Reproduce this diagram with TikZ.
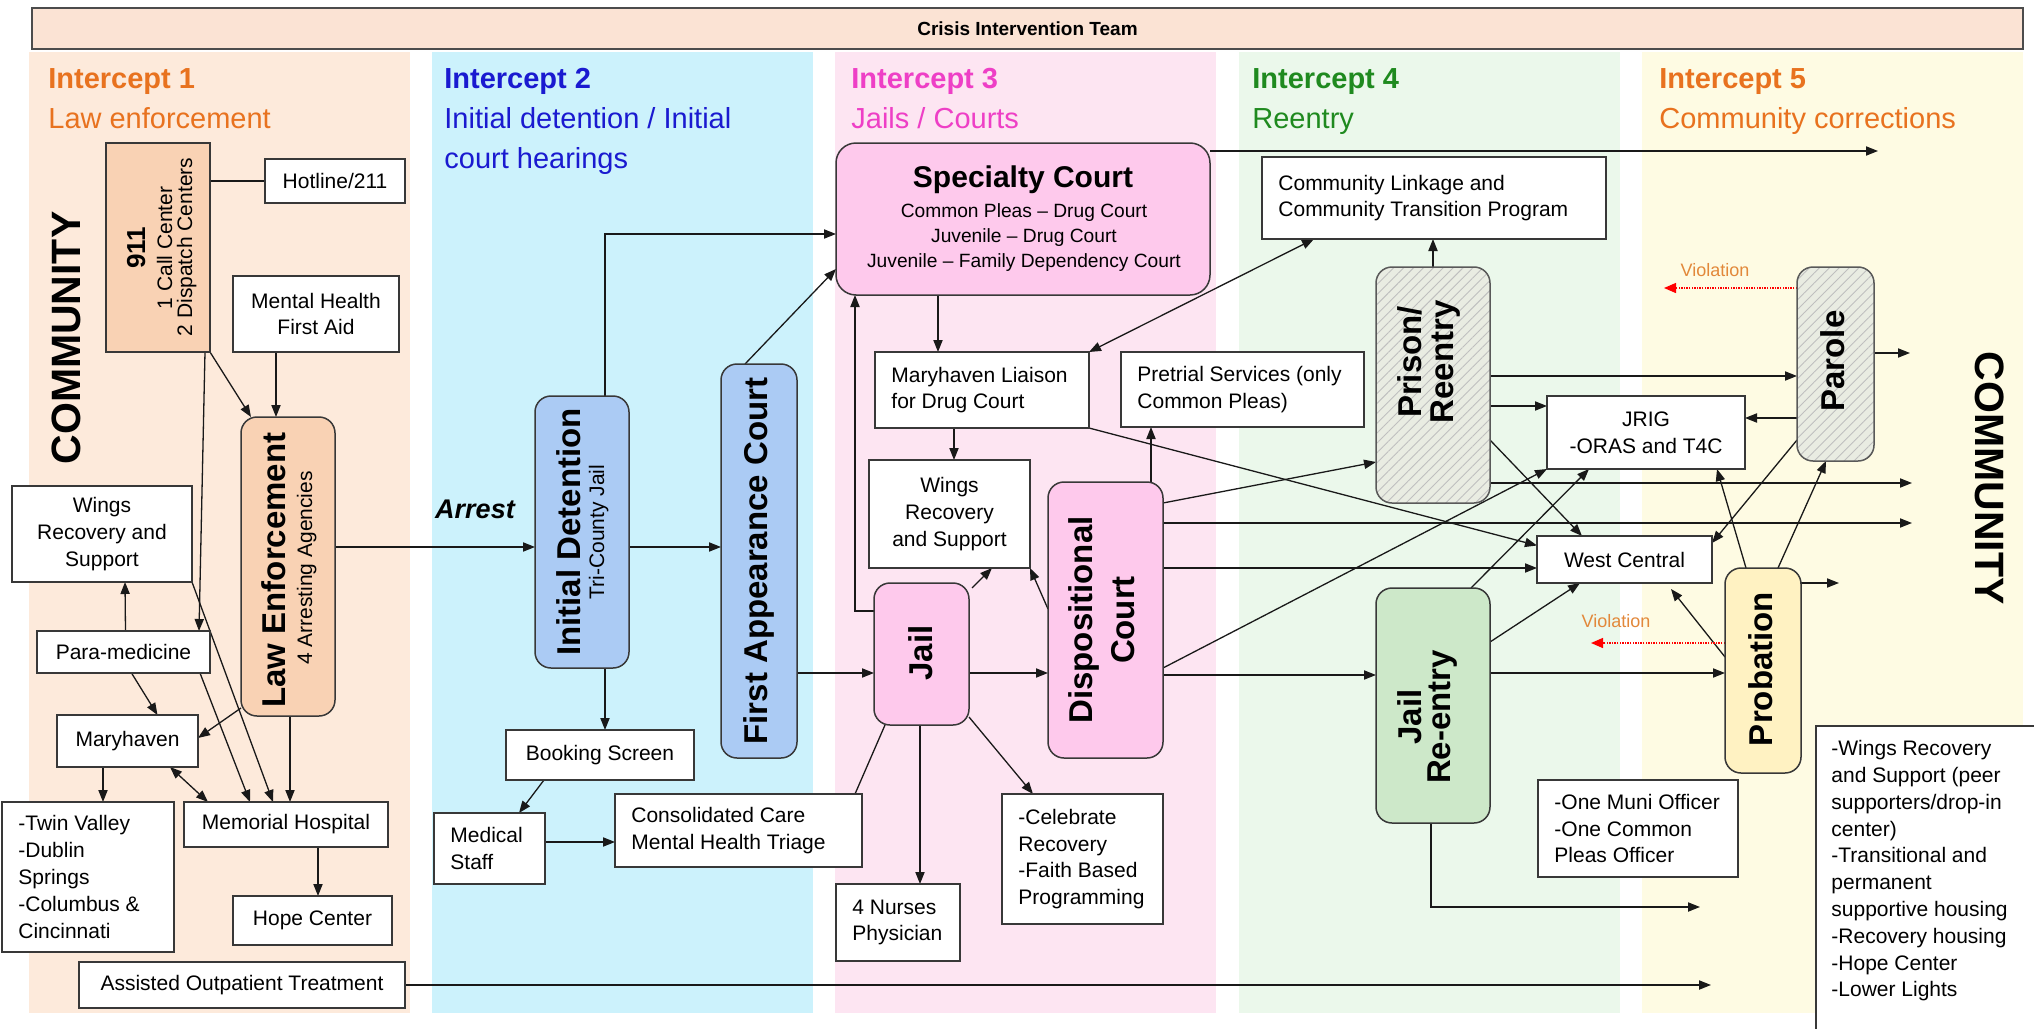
\documentclass[tikz,border=0pt]{standalone}
\usepackage{fontspec}
\setmainfont{Liberation Sans}
\usetikzlibrary{arrows.meta,calc,patterns.meta}

\definecolor{colA}{HTML}{FDEADB}
\definecolor{colB}{HTML}{CCF2FC}
\definecolor{colC}{HTML}{FDE5F2}
\definecolor{colD}{HTML}{EBF8EB}
\definecolor{colE}{HTML}{FEFBE3}
\definecolor{bannerc}{HTML}{FBE3D4}
\definecolor{peachbox}{HTML}{F9D2B4}
\definecolor{bluebox}{HTML}{ABCBF4}
\definecolor{pinkbox}{HTML}{FEC9EC}
\definecolor{greenbox}{HTML}{CDE8C9}
\definecolor{yellowbox}{HTML}{FFF2C2}
\definecolor{hatchbg}{HTML}{E9ECE2}
\definecolor{hOrange}{HTML}{E8721F}
\definecolor{hBlue}{HTML}{1A1AD0}
\definecolor{hMagenta}{HTML}{EE3FC6}
\definecolor{hGreen}{HTML}{1F8A1F}
\definecolor{violc}{HTML}{E2883A}

\pgfdeclarelayer{bg}
\pgfdeclarelayer{edges}
\pgfsetlayers{bg,edges,main}

\newcommand\bodyfont{\fontsize{10.5}{13.4}\selectfont}
\newcommand\vertfont{\fontsize{16.5}{18.5}\selectfont\bfseries}
\newcommand\headfont{\fontsize{14.5}{19.5}\selectfont}

% box from its corners: style, name, x1, y1, x2, y2, text
\newcommand\mkbox[7]{%
  \node[#1, minimum width={(#5-#3)*0.5pt}, minimum height={(#6-#4)*0.5pt}]
    (#2) at ({(#3+#5)/2},{(#4+#6)/2}) {#7};}
% same, with the text set flush left inside the box
\newcommand\mkboxl[7]{%
  \mkbox{#1}{#2}{#3}{#4}{#5}{#6}{}%
  \node[anchor=west, align=left, inner sep=0pt, font=\bodyfont] (#2-t) at ($(#2.west)+(16,0)$) {#7};}

\begin{document}
\begin{tikzpicture}[x=0.5pt,y=-0.5pt,
  box/.style={draw=black!78, line width=0.75pt, fill=white, inner sep=0pt, outer sep=0pt, align=center, font=\bodyfont},
  rbox/.style={box, rounded corners=8pt},
  hatchbox/.style={rbox, preaction={fill=hatchbg}, pattern={Lines[angle=45,distance=3.5pt,line width=0.45pt]}, pattern color=black!25, draw=black!65},
  arr/.style={draw=black!90, line width=0.65pt, -{Triangle[length=6pt,width=4.6pt]}},
  dbl/.style={draw=black!90, line width=0.65pt, {Triangle[length=6pt,width=4.6pt]}-{Triangle[length=6pt,width=4.6pt]}},
  plain/.style={draw=black!90, line width=0.65pt},
  viol/.style={draw=red, line width=0.7pt, dash pattern=on 0.7pt off 0.6pt, -{Triangle[length=6pt,width=5pt]}},
  vtext/.style={rotate=90, inner sep=0pt, font=\vertfont},
  hd/.style={anchor=base west, inner sep=0pt, font=\headfont},
  viollabel/.style={inner sep=0pt, text=violc, font=\fontsize{9}{10}\selectfont},
]
\useasboundingbox (0,0) rectangle (2034,1028);
\clip (0,0) rectangle (2034,1028);

% column backgrounds
\begin{pgfonlayer}{bg}
  \fill[white] (0,0) rectangle (2034,1028);
  \fill[colA] (29,52) rectangle (410,1013);
  \fill[colB] (432,52) rectangle (813,1013);
  \fill[colC] (835,52) rectangle (1216,1013);
  \fill[colD] (1239,52) rectangle (1620,1013);
  \fill[colE] (1642,52) rectangle (2023,1013);
\end{pgfonlayer}

% banner
\mkbox{box, fill=bannerc, draw=black!70}{banner}{32}{8}{2023}{49}{\fontsize{9.5}{11}\selectfont\bfseries Crisis Intervention Team}

% column headings
\node[hd, text=hOrange] (h1a) at (48,88) {\bfseries Intercept 1};
\node[hd, text=hOrange] (h1b) at (48,128) {Law enforcement};
\node[hd, text=hBlue] (h2a) at (444,88) {\bfseries Intercept 2};
\node[hd, text=hBlue] (h2b) at (444,128) {Initial detention / Initial};
\node[hd, text=hBlue] (h2c) at (444,168) {court hearings};
\node[hd, text=hMagenta] (h3a) at (851,88) {\bfseries Intercept 3};
\node[hd, text=hMagenta] (h3b) at (851,128) {Jails / Courts};
\node[hd, text=hGreen] (h4a) at (1252,88) {\bfseries Intercept 4};
\node[hd, text=hGreen] (h4b) at (1252,128) {Reentry};
\node[hd, text=hOrange] (h5a) at (1659,88) {\bfseries Intercept 5};
\node[hd, text=hOrange] (h5b) at (1659,128) {Community corrections};

\node[rotate=90, inner sep=0pt, font=\fontsize{20.5}{24}\selectfont\bfseries] (commL) at (66,338) {COMMUNITY};
\node[rotate=-90, inner sep=0pt, font=\fontsize{20.5}{24}\selectfont\bfseries] (commR) at (1990,478) {COMMUNITY};

% ---------- Intercept 1
\mkbox{box, fill=peachbox}{n911}{106}{143}{210}{352}{}
\node[vtext, anchor=base, font=\fontsize{13}{15}\selectfont\bfseries] (n911-t1) at (145,248) {911};
\node[vtext, anchor=base, font=\bodyfont] (n911-t2) at (172,248) {1 Call Center};
\node[vtext, anchor=base, font=\bodyfont] (n911-t3) at (192,247) {2 Dispatch Centers};
\mkbox{box}{hotline}{265}{159}{405}{203}{Hotline/211}
\mkbox{box}{mhfa}{233}{276}{399}{352}{Mental Health\\First Aid}
\mkbox{rbox, fill=peachbox}{le}{241}{417}{335}{716}{}
\node[vtext, anchor=base] (le-t1) at (285,570) {Law Enforcement};
\node[vtext, anchor=base, font=\bodyfont] (le-t2) at (312,568) {4 Arresting Agencies};
\mkbox{box}{wings1}{12}{486}{192}{582}{Wings\\Recovery and\\Support}
\mkbox{box}{para}{37}{631}{210}{673}{Para-medicine}
\mkbox{box}{mary}{57}{715}{198}{767}{Maryhaven}
\mkboxl{box}{twin}{2}{802}{174}{952}{-Twin Valley\\-Dublin\\Springs\\-Columbus \&\\Cincinnati}
\mkbox{box}{memorial}{184}{802}{388}{847}{Memorial Hospital}
\mkbox{box}{hope}{233}{896}{392}{945}{Hope Center}
\mkbox{box}{aot}{79}{962}{405}{1008}{Assisted Outpatient Treatment}

% ---------- Intercept 2
\node[inner sep=0pt, font=\fontsize{13.5}{16}\selectfont\bfseries\itshape] (arrest) at (475,509) {Arrest};
\mkbox{rbox, fill=bluebox}{id}{535}{396}{629}{668}{}
\node[vtext, anchor=base] (id-t1) at (580,532) {Initial Detention};
\node[vtext, anchor=base, font=\bodyfont] (id-t2) at (604,532) {Tri-County Jail};
\mkbox{rbox, fill=bluebox}{fac}{721}{364}{797}{758}{}
\node[vtext] (fac-t) at (fac.center) {First Appearance Court};
\mkbox{box}{booking}{506}{730}{694}{780}{Booking Screen}
\mkboxl{box}{medstaff}{434}{813}{545}{884}{Medical\\Staff}
\mkboxl{box}{consol}{615}{794}{862}{867}{Consolidated Care\\Mental Health Triage}

% ---------- Intercept 3
\mkbox{rbox, rounded corners=10pt, fill=pinkbox}{spec}{836}{143}{1210}{295}{}
\node[inner sep=0pt, font=\fontsize{15}{17}\selectfont\bfseries] (spec-t1) at (1023,180) {Specialty Court};
\node[inner sep=0pt, font=\fontsize{9.6}{11}\selectfont] (spec-t2) at (1024,213) {Common Pleas \textendash{} Drug Court};
\node[inner sep=0pt, font=\fontsize{9.6}{11}\selectfont] (spec-t3) at (1024,238) {Juvenile \textendash{} Drug Court};
\node[inner sep=0pt, font=\fontsize{9.6}{11}\selectfont] (spec-t4) at (1024,263) {Juvenile \textendash{} Family Dependency Court};
\mkboxl{box}{liaison}{875}{352}{1089}{428}{Maryhaven Liaison\\for Drug Court}
\mkbox{box}{wings3}{869}{460}{1030}{568}{Wings\\Recovery\\and Support}
\mkbox{rbox, fill=pinkbox}{jail}{874}{583}{969}{725}{}
\node[vtext] (jail-t) at (921,653) {Jail};
\mkbox{rbox, fill=pinkbox}{disp}{1048}{482}{1163}{758}{}
\node[vtext, anchor=base] (disp-t1) at (1092,620) {Dispositional};
\node[vtext, anchor=base] (disp-t2) at (1134,620) {Court};
\mkboxl{box}{pretrial}{1121}{352}{1364}{427}{Pretrial Services (only\\Common Pleas)}
\mkboxl{box}{nurses}{836}{884}{960}{961}{4 Nurses\\Physician}
\mkboxl{box}{celeb}{1002}{794}{1163}{924}{-Celebrate\\Recovery\\-Faith Based\\Programming}

% ---------- Intercept 4
\mkboxl{box}{complink}{1262}{157}{1606}{239}{Community Linkage and\\Community Transition Program}
\mkbox{hatchbox}{prison}{1376}{267}{1490}{503}{}
\node[vtext, anchor=base] (prison-t1) at (1421,362) {Prison/};
\node[vtext, anchor=base] (prison-t2) at (1453,362) {Reentry};
\mkbox{rbox, fill=greenbox}{jailre}{1376}{588}{1490}{823}{}
\node[vtext, anchor=base] (jailre-t1) at (1421,717) {Jail};
\node[vtext, anchor=base] (jailre-t2) at (1450,717) {Re-entry};
\mkbox{box}{jrig}{1547}{396}{1745}{469}{JRIG\\-ORAS and T4C}
\mkbox{box}{westc}{1537}{536}{1712}{583}{West Central}
\mkboxl{box}{muni}{1538}{780}{1738}{877}{-One Muni Officer\\-One Common\\Pleas Officer}

% ---------- Intercept 5
\mkbox{hatchbox}{parole}{1797}{267}{1874}{461}{}
\node[vtext] (parole-t) at (1833,361) {Parole};
\mkbox{rbox, fill=yellowbox}{probation}{1725}{568}{1801}{773}{}
\node[vtext] (probation-t) at (1761,669) {Probation};
\node[viollabel] (vl1) at (1715,270) {Violation};
\node[viollabel] (vl2) at (1616,621) {Violation};
\mkbox{box}{bigbox}{1816}{726}{2070}{1070}{}
\node[anchor=north west, align=left, inner sep=0pt, font=\bodyfont] (bigbox-t) at (1831,740)
  {-Wings Recovery\\and Support (peer\\supporters/drop-in\\center)\\-Transitional and\\permanent\\supportive housing\\-Recovery housing\\-Hope Center\\-Lower Lights};

% free ends of the outgoing connectors
\coordinate (specend) at (1878,151);
\coordinate (out1) at (1912,483);
\coordinate (out2) at (1912,523);
\coordinate (pout) at (1910,353);
\coordinate (probout) at (1839,583);
\coordinate (out3) at (1700,907);
\coordinate (aotend) at (1711,985);
\coordinate (viol1) at (1664,288);
\coordinate (viol2) at (1591,643);

\begin{pgfonlayer}{edges}
  % Intercept 1
  \draw[plain] (hotline.west) -- (hotline.west -| n911.east);
  \draw[arr] (n911.south east) -- ($(le.north west)+(10,0)$);
  \draw[arr] ($(mhfa.south)+(-40,0)$) -- ($(le.north)+(-12,0)$);
  \draw[arr] ($(n911.south east)+(-5,0)$) -- ($(para.north east)+(-11,0)$);
  \draw[arr] ($(para.north)+(2,0)$) -- ($(wings1.south)+(23,0)$);
  \draw[arr] ($(para.south)+(8,0)$) -- ($(mary.north)+(30,0)$);
  \draw[arr] ($(le.south west)+(0,-8)$) -- ($(mary.east)+(0,-3)$);
  \draw[arr] (wings1.south east) -- ($(memorial.north west)+(89,0)$);
  \draw[arr] ($(para.south east)+(-10,0)$) -- ($(memorial.north west)+(66,0)$);
  \draw[arr] ($(le.south)+(2,0)$) -- ($(memorial.north west)+(106,0)$);
  \draw[dbl] ($(mary.south east)+(-28,0)$) -- ($(memorial.north west)+(24,0)$);
  \draw[arr] ($(mary.south)+(-24.5,0)$) -- ($(twin.north)+(15,0)$);
  \draw[arr] ($(memorial.south)+(32,0)$) -- ($(hope.north)+(5.5,0)$);
  \draw[arr] ($(le.east)+(0,-19.5)$) -- ($(id.west)+(0,15)$);
  \draw[arr] (aot.east) -- (aotend);
  % Intercept 2
  \draw[arr] ($(id.north)+(23,0)$) |- ($(spec.west)+(0,15)$);
  \draw[arr] ($(id.east)+(0,15)$) -- ($(fac.west)+(0,-14)$);
  \draw[arr] ($(fac.north)+(-14,0)$) -- ($(spec.west)+(0,50)$);
  \draw[arr] ($(id.south)+(23,0)$) -- ($(booking.north)+(5,0)$);
  \draw[arr] ($(booking.south west)+(38,0)$) -- ($(medstaff.north west)+(85,0)$);
  \draw[arr] ($(medstaff.east)+(0,-6.5)$) -- ($(consol.west)+(0,11.5)$);
  \draw[arr] ($(fac.east)+(0,112)$) -- ($(jail.west)+(0,19)$);
  % Intercept 3
  \draw[arr] ($(spec.north east)+(0,8)$) -- (specend);
  \draw[arr] ($(spec.south)+(-85,0)$) -- ($(liaison.north)+(-44,0)$);
  \draw[dbl] ($(complink.south west)+(52,0)$) -- (liaison.north east);
  \draw[arr] ($(liaison.south)+(-28,0)$) -- ($(wings3.north)+(4.5,0)$);
  \draw[arr] ($(jail.north east)+(3,5)$) -- ($(wings3.south west)+(123,0)$);
  \draw[arr] ($(disp.north west)+(0,127)$) -- (wings3.south east);
  \draw[arr] ($(jail.west)+(0,-43)$) -| ($(spec.south west)+(19,0)$);
  \draw[arr] ($(jail.east)+(0,19)$) -- ($(disp.west)+(0,53)$);
  \draw[plain] ($(jail.south west)+(11,0)$) -- ($(consol.north east)+(-7,0)$);
  \draw[arr] ($(jail.south)+(-1.5,0)$) -- ($(nurses.north)+(22,0)$);
  \draw[arr] ($(jail.south east)+(0,-8)$) -- ($(celeb.north west)+(31,0)$);
  \draw[arr] ($(disp.north)+(45.5,0)$) -- ($(pretrial.south)+(-91.5,0)$);
  \draw[arr] ($(disp.north east)+(0,21)$) -- ($(prison.west)+(0,77)$);
  \draw[arr] ($(disp.north east)+(0,41)$) -- (out2);
  \draw[arr] ($(disp.east)+(0,-52)$) -- ($(westc.west)+(0,8.5)$);
  \draw[arr] ($(disp.east)+(0,48)$) -- (jrig.south west);
  \draw[arr] ($(disp.east)+(0,55)$) -- ($(jailre.west)+(0,-30.5)$);
  \draw[arr] (liaison.south east) -- ($(westc.west)+(0,-14)$);
  % Intercept 4
  \draw[arr] (prison.north) -- (prison.north |- complink.south);
  \draw[arr] ($(prison.east)+(0,-9)$) -- ($(parole.west)+(0,12)$);
  \draw[arr] ($(prison.east)+(0,21)$) -- ($(jrig.west)+(0,-26.5)$);
  \draw[arr] ($(prison.east)+(0,98)$) -- (out1);
  \draw[arr] ($(prison.east)+(0,55)$) -- ($(westc.north west)+(45,0)$);
  \draw[arr] ($(jailre.north east)+(-19,0)$) -- ($(jrig.south west)+(42,0)$);
  \draw[arr] ($(jailre.north east)+(0,54)$) -- ($(westc.south west)+(43,0)$);
  \draw[arr] ($(jailre.east)+(0,-32.5)$) -- ($(probation.west)+(0,2.5)$);
  \draw[arr] ($(jailre.south)+(-2,0)$) |- (out3);
  % Intercept 5
  \draw[viol] ($(parole.north west)+(0,21)$) -- (viol1);
  \draw[arr] ($(parole.east)+(0,-11)$) -- (pout);
  \draw[arr] ($(parole.west)+(0,54)$) -- ($(jrig.east)+(0,-14.5)$);
  \draw[arr] ($(parole.south west)+(0,-21)$) -- ($(westc.north east)+(0,7)$);
  \draw[arr] ($(probation.north west)+(21,0)$) -- ($(jrig.south east)+(-28,0)$);
  \draw[arr] ($(probation.north west)+(53,0)$) -- ($(parole.south)+(-9.5,0)$);
  \draw[arr] ($(probation.north east)+(0,15)$) -- (probout);
  \draw[arr] ($(probation.west)+(0,-13.5)$) -- ($(westc.south east)+(-41,6)$);
  \draw[viol] ($(probation.west)+(0,-27.5)$) -- (viol2);
\end{pgfonlayer}
\end{tikzpicture}
\end{document}
